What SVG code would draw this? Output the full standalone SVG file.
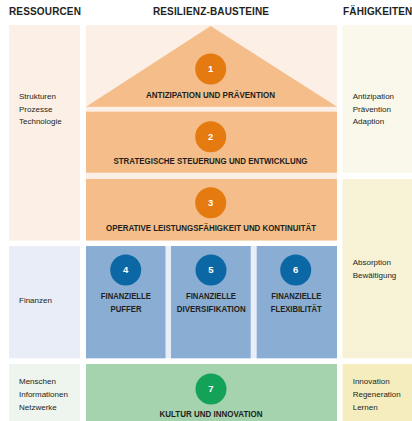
<svg xmlns="http://www.w3.org/2000/svg" width="412" height="421" viewBox="0 0 412 421">
<style>
.hdr{font-family:"Liberation Sans",Arial,sans-serif;font-weight:bold;font-size:10px;fill:#231F20;letter-spacing:0.15px}
.sm{font-family:"Liberation Sans",Arial,sans-serif;font-size:8px;fill:#231F20}
.lbl{font-family:"Liberation Sans",Arial,sans-serif;font-weight:bold;font-size:8.6px;fill:#231F20;text-anchor:middle}
.num{font-family:"Liberation Sans",Arial,sans-serif;font-weight:bold;font-size:9.5px;fill:#FFFFFF;text-anchor:middle}
.lpeach{fill:#FCF0E6}.peach{fill:#F4BD89}.orange{fill:#E57A10}
.lblue{fill:#E8EDF7}.blue{fill:#8AADD4}.dblue{fill:#0C68A4}
.lgreen{fill:#EEF4EE}.green{fill:#A4D3AE}.dgreen{fill:#14A158}
.rtop{fill:#FAF8EB}.rmid{fill:#F7F2D6}.rbot{fill:#F6EDBF}
</style>
<rect width="412" height="421" fill="#FFFFFF"/>
<g id="headers">
<text class="hdr" x="9" y="14.7">RESSOURCEN</text>
<text class="hdr" x="211" y="14.7" text-anchor="middle">RESILIENZ-BAUSTEINE</text>
<text class="hdr" x="343" y="14.7">FÄHIGKEITEN</text>
</g>
<g id="res-1">
<rect class="lpeach" x="9" y="25" width="71" height="215.5"/>
<text class="sm" x="19" y="99">Strukturen</text>
<text class="sm" x="19" y="111.5">Prozesse</text>
<text class="sm" x="19" y="124">Technologie</text>
</g>
<g id="res-2">
<rect class="lblue" x="9" y="246" width="71" height="112.3"/>
<text class="sm" x="19" y="303">Finanzen</text>
</g>
<g id="res-3">
<rect class="lgreen" x="9" y="364" width="71" height="57"/>
<text class="sm" x="19" y="384">Menschen</text>
<text class="sm" x="19" y="396.8">Informationen</text>
<text class="sm" x="19" y="409.6">Netzwerke</text>
</g>
<g id="backdrops">
<rect class="lpeach" x="86" y="25" width="251" height="215.5"/>
<rect class="lblue" x="86" y="246" width="251" height="112.3"/>
</g>
<g id="block-1">
<polygon class="peach" points="210.7,26 337,106.7 86,106.7"/>
<circle class="orange" cx="210.7" cy="69" r="15.5"/>
<text class="num" x="210.7" y="72.4">1</text>
<text class="lbl" x="210.5" y="97.7" textLength="129" lengthAdjust="spacingAndGlyphs">ANTIZIPATION UND PRÄVENTION</text>
</g>
<g id="block-2">
<rect class="peach" x="86" y="111.7" width="251" height="61"/>
<circle class="orange" cx="210.7" cy="136.7" r="15.5"/>
<text class="num" x="210.7" y="140.1">2</text>
<text class="lbl" x="210.5" y="164" textLength="194" lengthAdjust="spacingAndGlyphs">STRATEGISCHE STEUERUNG UND ENTWICKLUNG</text>
</g>
<g id="block-3">
<rect class="peach" x="86" y="179" width="251" height="61.5"/>
<circle class="orange" cx="210.7" cy="202.7" r="15.5"/>
<text class="num" x="210.7" y="206.1">3</text>
<text class="lbl" x="211" y="231" textLength="210" lengthAdjust="spacingAndGlyphs">OPERATIVE LEISTUNGSFÄHIGKEIT UND KONTINUITÄT</text>
</g>
<g id="block-4">
<rect class="blue" x="86" y="246" width="79.5" height="112.3"/>
<circle class="dblue" cx="125.7" cy="270" r="15.5"/>
<text class="num" x="125.7" y="273.4">4</text>
<text class="lbl" x="125.8" y="299.3" textLength="50" lengthAdjust="spacingAndGlyphs">FINANZIELLE</text>
<text class="lbl" x="126" y="311.7" textLength="31" lengthAdjust="spacingAndGlyphs">PUFFER</text>
</g>
<g id="block-5">
<rect class="blue" x="171" y="246" width="79.7" height="112.3"/>
<circle class="dblue" cx="211" cy="270" r="15.5"/>
<text class="num" x="211" y="273.4">5</text>
<text class="lbl" x="211" y="299.3" textLength="50" lengthAdjust="spacingAndGlyphs">FINANZIELLE</text>
<text class="lbl" x="211.2" y="311.7" textLength="69" lengthAdjust="spacingAndGlyphs">DIVERSIFIKATION</text>
</g>
<g id="block-6">
<rect class="blue" x="256.7" y="246" width="80.3" height="112.3"/>
<circle class="dblue" cx="295.7" cy="270" r="15.5"/>
<text class="num" x="295.7" y="273.4">6</text>
<text class="lbl" x="296.3" y="299.3" textLength="50" lengthAdjust="spacingAndGlyphs">FINANZIELLE</text>
<text class="lbl" x="296.3" y="311.7" textLength="51" lengthAdjust="spacingAndGlyphs">FLEXIBILITÄT</text>
</g>
<g id="block-7">
<rect class="green" x="86" y="364" width="251" height="57"/>
<circle class="dgreen" cx="211" cy="389" r="15.5"/>
<text class="num" x="211" y="392.4">7</text>
<text class="lbl" x="211" y="417" textLength="103" lengthAdjust="spacingAndGlyphs">KULTUR UND INNOVATION</text>
</g>
<g id="cap-1">
<rect class="rtop" x="342.5" y="25" width="69.5" height="147.7"/>
<text class="sm" x="352.7" y="99">Antizipation</text>
<text class="sm" x="352.7" y="111.5">Prävention</text>
<text class="sm" x="352.7" y="124">Adaption</text>
</g>
<g id="cap-2">
<rect class="rmid" x="342.5" y="179" width="69.5" height="179.3"/>
<text class="sm" x="352.7" y="265">Absorption</text>
<text class="sm" x="352.7" y="278">Bewältigung</text>
</g>
<g id="cap-3">
<rect class="rbot" x="342.5" y="364" width="69.5" height="57"/>
<text class="sm" x="352.7" y="384">Innovation</text>
<text class="sm" x="352.7" y="396.8">Regeneration</text>
<text class="sm" x="352.7" y="409.6">Lernen</text>
</g>
<g id="connectors"/>
</svg>
